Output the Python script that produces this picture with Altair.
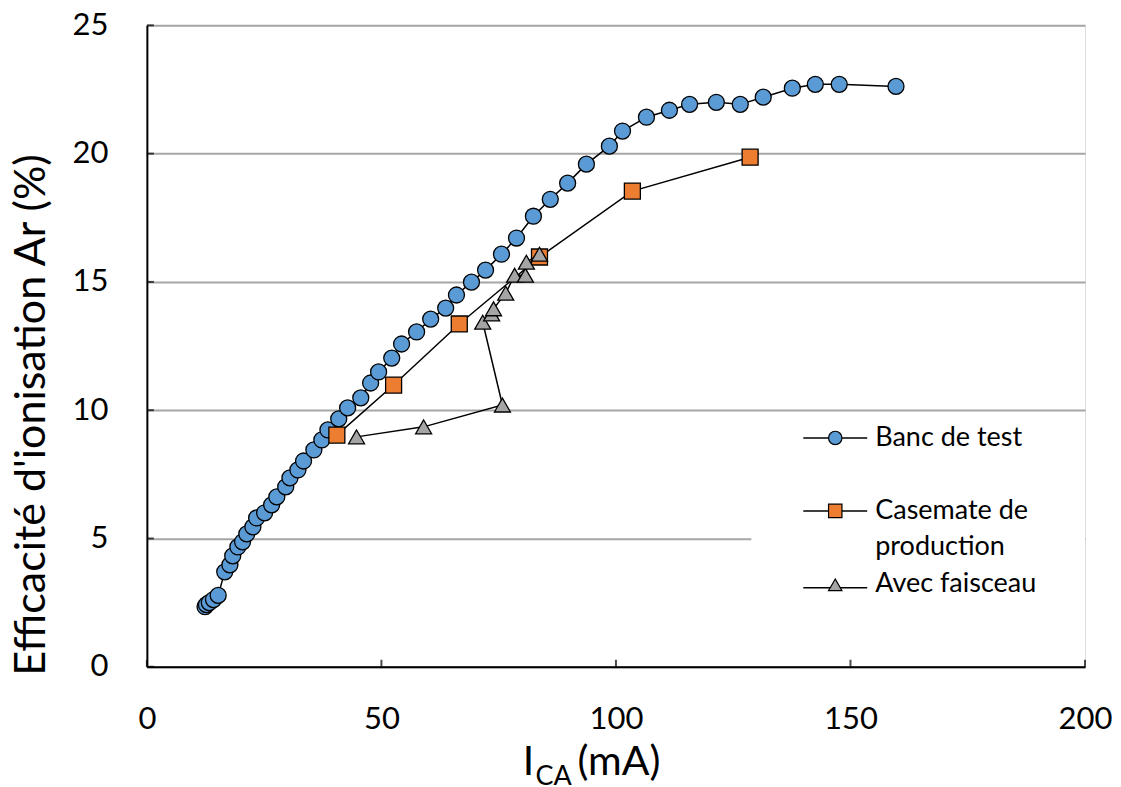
import altair as alt
import pandas as pd

# ---------------- data ----------------
series_names = ["Banc de test", "Casemate de production", "Avec faisceau"]

banc_I = [12.4, 12.7, 13.3, 14.2, 15.2, 16.6, 17.7, 18.3, 19.4, 20.4,
          21.3, 22.6, 23.4, 25.1, 26.6, 27.7, 29.6, 30.5, 32.2, 33.4,
          35.6, 37.3, 38.6, 40.9, 42.8, 45.6, 47.7, 49.4, 52.2, 54.3,
          57.5, 60.5, 63.7, 66.0, 69.2, 72.2, 75.6, 78.8, 82.4, 86.0,
          89.7, 93.7, 98.6, 101.4, 106.5, 111.4, 115.7, 121.4, 126.5, 131.4,
          137.6, 142.5, 147.6, 159.7]
banc_E = [2.34, 2.42, 2.50, 2.62, 2.78, 3.70, 3.97, 4.32, 4.67, 4.87,
          5.18, 5.45, 5.80, 6.00, 6.31, 6.62, 7.01, 7.36, 7.67, 8.02,
          8.45, 8.84, 9.23, 9.66, 10.09, 10.48, 11.06, 11.49, 12.03, 12.58,
          13.05, 13.55, 13.98, 14.49, 14.99, 15.46, 16.08, 16.71, 17.56, 18.22,
          18.85, 19.59, 20.29, 20.88, 21.42, 21.69, 21.92, 22.00, 21.92, 22.20,
          22.55, 22.70, 22.70, 22.62]

casemate_I = [40.5, 52.6, 66.6, 83.7, 103.5, 128.6]
casemate_E = [9.03, 10.98, 13.36, 15.97, 18.54, 19.86]

faisceau_I = [44.7, 59.0, 75.8, 71.6, 73.5, 73.9, 76.5, 78.4, 80.7, 80.9, 83.7]
faisceau_E = [8.96, 9.35, 10.20, 13.43, 13.75, 13.95, 14.56, 15.26, 15.26, 15.77, 16.08]

x_ticks = [0, 50, 100, 150, 200]
y_ticks = [0, 5, 10, 15, 20, 25]

y_title = "Efficacité d'ionisation Ar (%)"
x_title_main, x_title_sub, x_title_unit = "I", "CA", "(mA)"

# ---------------- style ----------------
FONT = "Lato"
W, H = 939, 642
colors = ["#5B9BD5", "#ED7D31", "#A5A5A5"]
shapes = ["circle", "square", "triangle-up"]

xs = alt.Scale(domain=[0, 200], nice=False, zero=False)
ys = alt.Scale(domain=[0, 25], nice=False, zero=False)

def frame(I, E):
    return pd.DataFrame({"I": I, "E": E, "idx": list(range(len(I)))})

frames = [frame(banc_I, banc_E), frame(casemate_I, casemate_E), frame(faisceau_I, faisceau_E)]

x_axis = alt.Axis(values=x_ticks, grid=False, ticks=False, tickSize=0, title=None,
                  labelFont=FONT, labelFontSize=31, labelColor="black",
                  labelPadding=38, labelFlush=False, domainColor="black", domainWidth=2)
y_axis = alt.Axis(values=y_ticks, grid=True, gridColor="#A6A6A6", gridWidth=2,
                  ticks=False, tickSize=0, title=None,
                  labelFont=FONT, labelFontSize=31, labelColor="black",
                  labelPadding=39, labelFlush=False, domainColor="black", domainWidth=2)

one = pd.DataFrame({"k": [0]})

layers = []
base = alt.Chart(frames[0]).mark_line(opacity=0).encode(
    x=alt.X("I:Q", scale=xs, axis=x_axis),
    y=alt.Y("E:Q", scale=ys, axis=y_axis),
)
layers.append(base)

for df, col, shp in zip(frames, colors, shapes):
    line = alt.Chart(df).mark_line(color="black", strokeWidth=1.5).encode(
        x=alt.X("I:Q", scale=xs), y=alt.Y("E:Q", scale=ys), order="idx:Q")
    pts = alt.Chart(df).mark_point(shape=shp, filled=True, fill=col, stroke="black",
                                   strokeWidth=1.3, size=256, opacity=1).encode(
        x=alt.X("I:Q", scale=xs), y=alt.Y("E:Q", scale=ys))
    layers += [line, pts]

# inward tick marks
xt = alt.Chart(pd.DataFrame({"t": x_ticks})).mark_tick(
    orient="vertical", size=7, thickness=2, color="black").encode(
    x=alt.X("t:Q", scale=xs), y=alt.value(H - 3.5))
yt = alt.Chart(pd.DataFrame({"t": y_ticks})).mark_tick(
    orient="horizontal", size=7, thickness=2, color="black").encode(
    y=alt.Y("t:Q", scale=ys), x=alt.value(3.5))
layers += [xt, yt]

# legend background (white box hiding the grid)
leg_bg = alt.Chart(one).mark_rect(color="white").encode(
    x=alt.value(605), x2=alt.value(W), y=alt.value(392), y2=alt.value(600))
layers.append(leg_bg)

# legend entries
leg_rows = [413, 486, 563]
for name, col, shp, yy in zip(series_names, colors, shapes, leg_rows):
    layers.append(alt.Chart(one).mark_rule(color="black", strokeWidth=1.5).encode(
        x=alt.value(657), x2=alt.value(721), y=alt.value(yy)))
    layers.append(alt.Chart(one).mark_point(shape=shp, filled=True, fill=col, stroke="black",
                                            strokeWidth=1.2, size=180, opacity=1).encode(
        x=alt.value(689), y=alt.value(yy - (3 if shp == "triangle-up" else 0))))

leg_lines = [series_names[0], "Casemate de", "production", series_names[2]]
leg_y = [413, 486, 522, 559]
for txt, yy in zip(leg_lines, leg_y):
    layers.append(alt.Chart(one).mark_text(align="left", baseline="middle", font=FONT,
                                           fontSize=27, color="black").encode(
        x=alt.value(729), y=alt.value(yy), text=alt.value(txt)))

# axis titles
layers.append(alt.Chart(one).mark_text(angle=270, align="center", baseline="alphabetic",
                                       font=FONT, fontSize=43, color="black").encode(
    x=alt.value(-102), y=alt.value(390), text=alt.value(y_title)))
layers.append(alt.Chart(one).mark_text(align="center", baseline="alphabetic",
                                       font=FONT, fontSize=41, color="black").encode(
    x=alt.value(382), y=alt.value(750), text=alt.value(x_title_main)))
layers.append(alt.Chart(one).mark_text(align="left", baseline="alphabetic",
                                       font=FONT, fontSize=27, color="black").encode(
    x=alt.value(389), y=alt.value(760), text=alt.value(x_title_sub)))
layers.append(alt.Chart(one).mark_text(align="left", baseline="alphabetic",
                                       font=FONT, fontSize=41, color="black").encode(
    x=alt.value(431), y=alt.value(750), text=alt.value(x_title_unit)))

chart = alt.layer(*layers).properties(
    width=W, height=H,
    autosize=alt.AutoSizeParams(type="none"),
    padding={"left": 139, "top": 17, "right": 28, "bottom": 118},
).configure_view(stroke=None).configure(background="white")

chart.save("out.html", embed_options={"renderer": "svg", "actions": False})
